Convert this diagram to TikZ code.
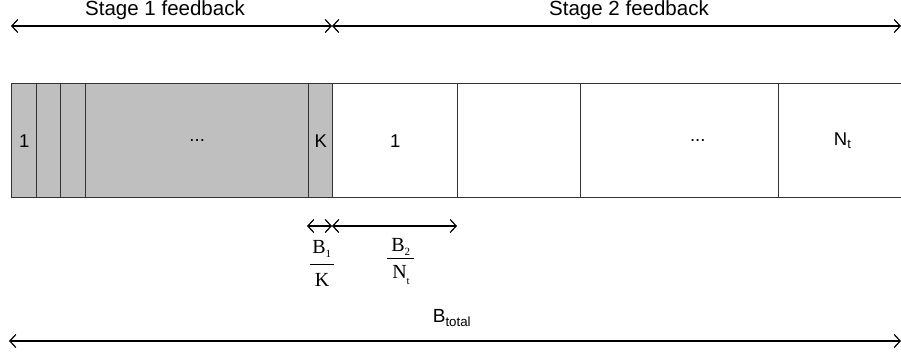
\documentclass[tikz,border=0pt]{standalone}
\usepackage{fontspec}
\setmainfont{Liberation Sans}
\newfontfamily\tnr{Liberation Serif}
\usetikzlibrary{arrows.meta}
\begin{document}
\begin{tikzpicture}[x=1pt,y=-1pt,
  cell/.style={draw=black!80,line width=1.4pt,minimum height=114pt,inner sep=0pt,anchor=north west,font=\fontsize{18.5}{20}\selectfont},
  grey/.style={cell,fill=black!25},
  dim/.style={line width=1.2pt,{Straight Barb[length=6pt,width=13pt]}-{Straight Barb[length=6pt,width=13pt]}},
  big/.style={font=\fontsize{20.5}{22}\selectfont},
  frac/.style={font=\tnr\fontsize{20}{22}\selectfont,inner sep=0pt}]
\useasboundingbox (0,0) rectangle (901,353);
% cells
\node[grey,minimum width=25pt] (g1) at (11,83) {1\hspace{2pt}};
\node[grey,minimum width=24pt] (g2) at (36,83) {};
\node[grey,minimum width=25pt] (g3) at (60,83) {};
\node[grey,minimum width=223pt] (g4) at (85,83) {...\hspace{14pt}};
\node[grey,minimum width=24pt] (g5) at (308,83) {K};
\node[cell,minimum width=125pt] (w1) at (332,83) {1\hspace{8pt}};
\node[cell,minimum width=123pt] (w2) at (457,83) {};
\node[cell,minimum width=198pt] (w3) at (580,83) {\hspace{36pt}...};
\node[cell,minimum width=128pt] (w4) at (778,83) {N\textsubscript{t}\hspace{8pt}};
% top dimension
\coordinate (tl) at (11,26);
\coordinate (tm) at (332,26);
\coordinate (tr) at (901,26);
\draw[dim] (tl) -- (tm);
\draw[dim] (tm) -- (tr);
\node[big] (s1) at (165,10) {Stage 1 feedback};
\node[big] (s2) at (629,10) {Stage 2 feedback};
% lower dimension
\coordinate (bl) at (307,226);
\coordinate (bm) at (332,226);
\coordinate (br) at (457,226);
\draw[dim] (bl) -- (bm);
\draw[dim] (bm) -- (br);
\node[frac] (f1n) at (322,249) {B\textsubscript{\fontsize{11}{11}\selectfont 1}};
\draw[line width=1pt] (310,264) -- (334,264);
\node[frac] (f1d) at (322,280) {K};
\node[frac] (f2n) at (401,247) {B\textsubscript{\fontsize{11}{11}\selectfont 2}};
\draw[line width=1pt] (387,258) -- (414,258);
\node[frac] (f2d) at (401,275) {N\raisebox{-6pt}{\fontsize{11}{11}\selectfont t}};
% bottom dimension
\coordinate (ll) at (9,341);
\coordinate (lr) at (901,341);
\draw[dim] (ll) -- (lr);
\node[font=\fontsize{19}{21}\selectfont] (bt) at (452,318) {B\textsubscript{total}};
\end{tikzpicture}
\end{document}
